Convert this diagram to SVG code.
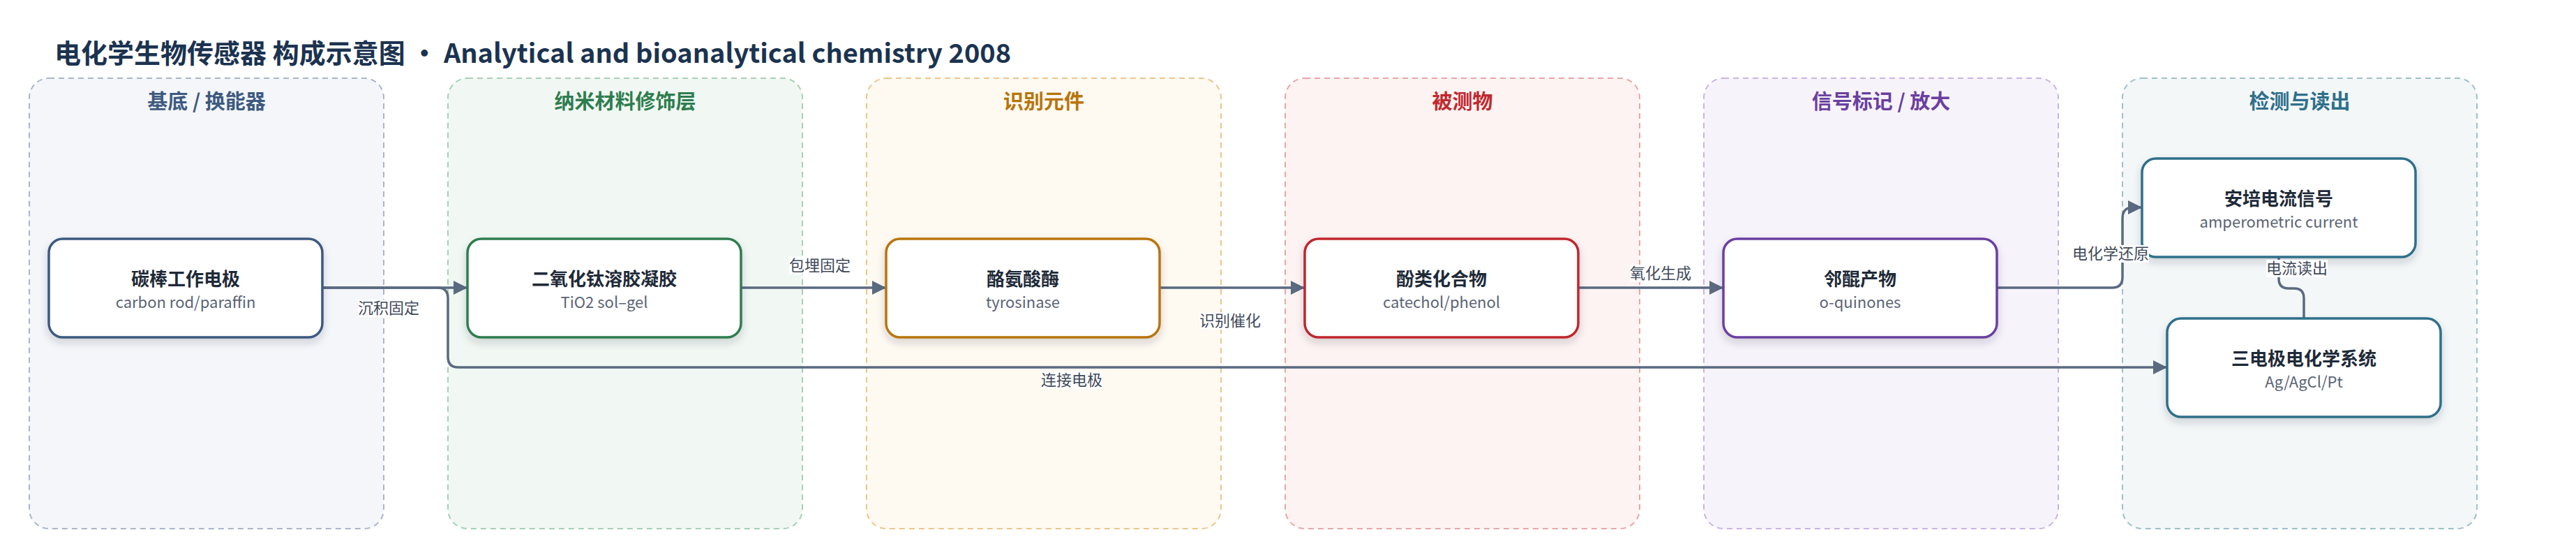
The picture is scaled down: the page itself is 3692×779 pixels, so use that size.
<svg xmlns="http://www.w3.org/2000/svg" width="3692" height="779" viewBox="0 0 3692 779">
<defs>
  <style>
    text { font-family: "Noto Sans CJK SC", "Noto Sans", "Liberation Sans", sans-serif; }
    .title { font-size: 38px; font-weight: 700; fill: #1b3350; }
    .grp { stroke-width: 2; stroke-dasharray: 8 6; }
    .glabel { font-size: 29px; font-weight: 700; text-anchor: middle; }
    .node { fill: #ffffff; stroke-width: 3.5; filter: url(#shadow); }
    .ntitle { font-size: 26px; font-weight: 700; fill: #1e2a38; text-anchor: middle; }
    .nsub { font-size: 22px; fill: #5a6474; text-anchor: middle; }
    .edge { fill: none; stroke: #5a6a80; stroke-width: 3.5; }
    .elabel { font-size: 22px; fill: #3f4a5a; text-anchor: middle; }
    .lbg { fill: #ffffff; }
  </style>
  <filter id="shadow" x="-10%" y="-20%" width="120%" height="150%">
    <feDropShadow dx="0" dy="6" stdDeviation="6" flood-color="#1e2a38" flood-opacity="0.18"/>
  </filter>
  <marker id="arrow" markerUnits="userSpaceOnUse" markerWidth="20" markerHeight="20" refX="20" refY="10" orient="auto">
    <path d="M0,0 L20,10 L0,20 z" fill="#5a6a80"/>
  </marker>
</defs>
<rect width="3692" height="779" fill="#ffffff"/>
<text class="title" x="78" y="90">电化学生物传感器 构成示意图 • Analytical and bioanalytical chemistry 2008</text>

<g id="group-substrate">
  <rect class="grp" x="42" y="112" width="508" height="645" rx="28" fill="#f4f6fa" stroke="#a9b6ca"/>
  <text class="glabel" x="296" y="156" fill="#3d5a80">基底 / 换能器</text>
</g>
<g id="group-nano">
  <rect class="grp" x="642" y="112" width="508" height="645" rx="28" fill="#f1f8f3" stroke="#a6d0b4"/>
  <text class="glabel" x="896" y="156" fill="#2e7d4f">纳米材料修饰层</text>
</g>
<g id="group-recognition">
  <rect class="grp" x="1242" y="112" width="508" height="645" rx="28" fill="#fef9f1" stroke="#ebc68c"/>
  <text class="glabel" x="1496" y="156" fill="#b8740a">识别元件</text>
</g>
<g id="group-analyte">
  <rect class="grp" x="1842" y="112" width="508" height="645" rx="28" fill="#fdf3f2" stroke="#e8a6a6"/>
  <text class="glabel" x="2096" y="156" fill="#c0282d">被测物</text>
</g>
<g id="group-signal">
  <rect class="grp" x="2442" y="112" width="508" height="645" rx="28" fill="#f7f3fb" stroke="#cbb3e2"/>
  <text class="glabel" x="2696" y="156" fill="#6a3fa0">信号标记 / 放大</text>
</g>
<g id="group-detect">
  <rect class="grp" x="3042" y="112" width="508" height="645" rx="28" fill="#f3f7f8" stroke="#9dc0cc"/>
  <text class="glabel" x="3296" y="156" fill="#2f6f8a">检测与读出</text>
</g>

<g id="connectors">
  <path class="edge" d="M462,412 H627 Q642,412 642,427 V511 Q642,526 657,526 H3106" marker-end="url(#arrow)"/>
  <path class="edge" d="M462,412 H670" marker-end="url(#arrow)"/>
  <path class="edge" d="M1062,412 H1270" marker-end="url(#arrow)"/>
  <path class="edge" d="M1662,412 H1870" marker-end="url(#arrow)"/>
  <path class="edge" d="M2262,412 H2470" marker-end="url(#arrow)"/>
  <path class="edge" d="M2862,412 H3027 Q3042,412 3042,397 V312 Q3042,297 3057,297 H3070" marker-end="url(#arrow)"/>
  <path class="edge" d="M3266,368 V399 Q3266,413 3280,413 H3288 Q3302,413 3302,427 V456"/>
</g>

<g id="node-carbon">
  <rect class="node" x="70" y="342" width="392" height="141" rx="20" stroke="#3d5a80"/>
  <text class="ntitle" x="266" y="409">碳棒工作电极</text>
  <text class="nsub" x="266" y="441">carbon rod/paraffin</text>
</g>
<g id="node-tio2">
  <rect class="node" x="670" y="342" width="392" height="141" rx="20" stroke="#2e7d4f"/>
  <text class="ntitle" x="866" y="409">二氧化钛溶胶凝胶</text>
  <text class="nsub" x="866" y="441">TiO2 sol–gel</text>
</g>
<g id="node-tyrosinase">
  <rect class="node" x="1270" y="342" width="392" height="141" rx="20" stroke="#b8740a"/>
  <text class="ntitle" x="1466" y="409">酪氨酸酶</text>
  <text class="nsub" x="1466" y="441">tyrosinase</text>
</g>
<g id="node-phenol">
  <rect class="node" x="1870" y="342" width="392" height="141" rx="20" stroke="#c0282d"/>
  <text class="ntitle" x="2066" y="409">酚类化合物</text>
  <text class="nsub" x="2066" y="441">catechol/phenol</text>
</g>
<g id="node-quinone">
  <rect class="node" x="2470" y="342" width="392" height="141" rx="20" stroke="#6a3fa0"/>
  <text class="ntitle" x="2666" y="409">邻醌产物</text>
  <text class="nsub" x="2666" y="441">o-quinones</text>
</g>
<g id="node-current">
  <rect class="node" x="3070" y="227" width="392" height="141" rx="20" stroke="#2f6f8a"/>
  <text class="ntitle" x="3266" y="294">安培电流信号</text>
  <text class="nsub" x="3266" y="326">amperometric current</text>
</g>
<g id="node-cell">
  <rect class="node" x="3106" y="456" width="392" height="141" rx="20" stroke="#2f6f8a"/>
  <text class="ntitle" x="3302" y="523">三电极电化学系统</text>
  <text class="nsub" x="3302" y="555">Ag/AgCl/Pt</text>
</g>

<g id="edge-labels">
  <rect class="lbg" x="513" y="429" width="88" height="25"/>
  <text class="elabel" x="557" y="449">沉积固定</text>
  <rect class="lbg" x="1131" y="368" width="88" height="25"/>
  <text class="elabel" x="1175" y="388">包埋固定</text>
  <rect class="lbg" x="1719" y="447" width="88" height="25"/>
  <text class="elabel" x="1763" y="467">识别催化</text>
  <rect class="lbg" x="2336" y="379" width="88" height="25"/>
  <text class="elabel" x="2380" y="399">氧化生成</text>
  <rect class="lbg" x="1492" y="532" width="88" height="25"/>
  <text class="elabel" x="1536" y="552">连接电极</text>
  <rect class="lbg" x="2970" y="351" width="110" height="25"/>
  <text class="elabel" x="3025" y="371">电化学还原</text>
  <rect class="lbg" x="3248" y="372" width="88" height="25"/>
  <text class="elabel" x="3292" y="392">电流读出</text>
</g>
</svg>
